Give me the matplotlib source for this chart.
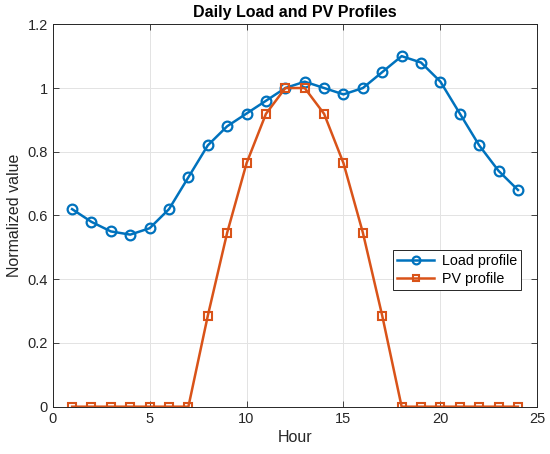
import matplotlib
matplotlib.use("Agg")
import matplotlib.pyplot as plt

# hourly data
hours = list(range(1, 25))
load_profile = [0.62, 0.58, 0.55, 0.54, 0.56, 0.62, 0.72, 0.82, 0.88, 0.92, 0.96, 1.00,
                1.02, 1.00, 0.98, 1.00, 1.05, 1.10, 1.08, 1.02, 0.92, 0.82, 0.74, 0.68]
pv_profile = [0, 0, 0, 0, 0, 0, 0, 0.285, 0.546, 0.764, 0.919, 1.00,
              1.00, 0.919, 0.764, 0.546, 0.285, 0, 0, 0, 0, 0, 0, 0]

x_ticks = [0, 5, 10, 15, 20, 25]
y_ticks = [0, 0.2, 0.4, 0.6, 0.8, 1.0, 1.2]
y_tick_labels = ["0", "0.2", "0.4", "0.6", "0.8", "1", "1.2"]

plt.rcParams['font.family'] = ['Liberation Sans', 'DejaVu Sans']

fig = plt.figure(figsize=(5.5, 4.54), dpi=100)
ax = fig.add_axes([0.0958, 0.1042, 0.8812, 0.8423])

ax.plot(hours, load_profile, color='#0072BD', linewidth=1.8, marker='o',
        markersize=7, markerfacecolor='none', markeredgewidth=1.6, label='Load profile')
ax.plot(hours, pv_profile, color='#D95319', linewidth=1.8, marker='s',
        markersize=6, markerfacecolor='none', markeredgewidth=1.5, label='PV profile')

ax.set_xlim(0, 25)
ax.set_ylim(0, 1.2)
ax.set_xticks(x_ticks)
ax.set_yticks(y_ticks)
ax.set_yticklabels(y_tick_labels)
ax.tick_params(direction='in', top=True, right=True, labelsize=10.5,
               colors='#262626', length=4, width=0.6)
ax.grid(True, color='#e3e3e3', linewidth=0.7)
ax.set_axisbelow(True)
for s in ax.spines.values():
    s.set_color('#262626')
    s.set_linewidth(0.7)

ax.set_xlabel('Hour', fontsize=11.5, color='#262626', labelpad=3)
ax.set_ylabel('Normalized value', fontsize=11.5, color='#262626', labelpad=4)
ax.set_title('Daily Load and PV Profiles', fontsize=11.5, fontweight='bold', pad=5)

leg = ax.legend(loc='lower left', bbox_to_anchor=(0.702, 0.305), fancybox=False,
                edgecolor='#262626', fontsize=10.3, framealpha=1, borderpad=0.3,
                handlelength=2.6, labelspacing=0.25, borderaxespad=0,
                markerscale=0.8, handletextpad=0.5)
leg.get_frame().set_linewidth(0.7)

fig.savefig('out.png', dpi=100)
